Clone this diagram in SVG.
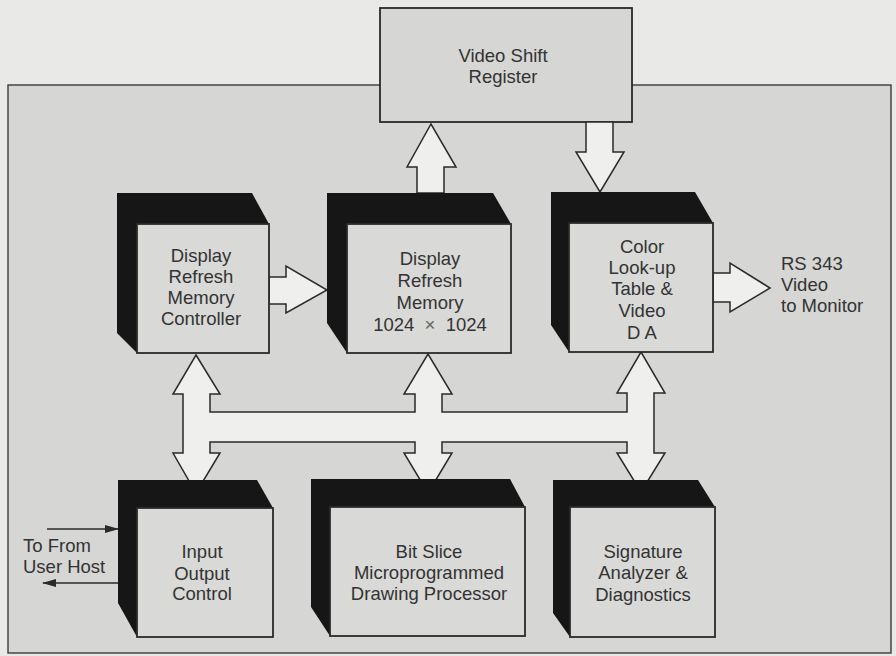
<svg xmlns="http://www.w3.org/2000/svg" width="896" height="656" viewBox="0 0 896 656">
<defs>
<style>
.bg{fill:#e9e9e7}
.panel{fill:#d6d6d4;stroke:#3a3a3a;stroke-width:1.4}
.shade{fill:#161616}
.face{fill:#d9d9d7;stroke:#2a2a2a;stroke-width:1.8}
.big{fill:#efefed;stroke:#2a2a2a;stroke-width:1.5;stroke-linejoin:miter}
.thin{stroke:#2a2a2a;stroke-width:1.6;fill:none}
text{font-family:"Liberation Sans",Arial,Helvetica,sans-serif;font-size:18.5px;fill:#333333}
.c{text-anchor:middle}
</style>
<marker id="ah" viewBox="0 0 14 8" refX="13" refY="4" markerWidth="14" markerHeight="8" markerUnits="userSpaceOnUse" orient="auto">
<path d="M0,0 L14,4 L0,8 Z" fill="#2a2a2a"/>
</marker>
</defs>
<rect class="bg" x="0" y="0" width="896" height="656"/>
<rect class="panel" x="8" y="85" width="883" height="568"/>

<g id="video-shift-register">
<rect class="face" x="380" y="8" width="252" height="114" style="fill:#d6d6d4"/>
<text class="c" x="503" y="62">Video Shift</text>
<text class="c" x="503" y="83">Register</text>
</g>

<g id="connectors">
<path class="big" d="M417,193 L417,167 L407,167 L431,124 L456,167 L444,167 L444,193 Z"/>
<path class="big" d="M586,122 L586,152 L576,152 L600,192 L624,152 L613,152 L613,122 Z"/>
<path class="big" d="M269,277 L286,277 L286,266 L327,290 L286,313 L286,304 L269,304 Z"/>
<path class="big" d="M713,273 L730,273 L730,263 L770,288 L730,312 L730,302 L713,302 Z"/>
<path class="big" d="M196,355 L220,394 L210,394 L210,412 L415,412 L415,394 L404,394 L428,354 L452,394 L442,394 L442,412 L627,412 L627,393 L617,393 L641,352 L665,393 L654,393 L654,453 L665,453 L641,492 L617,453 L627,453 L627,442 L442,442 L442,453 L452,453 L428,493 L404,453 L415,453 L415,442 L210,442 L210,453 L220,453 L196,493 L173,453 L183,453 L183,394 L173,394 Z"/>
<line class="thin" x1="47" y1="529" x2="118" y2="529" marker-end="url(#ah)"/>
<line class="thin" x1="118" y1="583" x2="43" y2="583" marker-end="url(#ah)"/>
</g>

<g id="display-refresh-memory-controller">
<path class="shade" d="M117,193 L252,193 L269,224 L137,224 L137,353 L117,333 Z"/>
<rect class="face" x="137" y="224" width="132" height="129"/>
<text class="c" x="201" y="262">Display</text>
<text class="c" x="201" y="283">Refresh</text>
<text class="c" x="201" y="304">Memory</text>
<text class="c" x="201" y="325">Controller</text>
</g>

<g id="display-refresh-memory">
<path class="shade" d="M327,193 L493,193 L511,224 L347,224 L347,353 L327,323 Z"/>
<rect class="face" x="347" y="224" width="164" height="129"/>
<text class="c" x="430" y="265">Display</text>
<text class="c" x="430" y="287">Refresh</text>
<text class="c" x="430" y="309">Memory</text>
<text class="c" x="430" y="331" xml:space="preserve">1024  <tspan fill="#666666">×</tspan>  1024</text>
</g>

<g id="color-lookup-table">
<path class="shade" d="M551,192 L695,192 L713,223 L569,223 L569,352 L551,325 Z"/>
<rect class="face" x="569" y="223" width="144" height="129"/>
<text class="c" x="642" y="253">Color</text>
<text class="c" x="642" y="274">Look-up</text>
<text class="c" x="642" y="295">Table &amp;</text>
<text class="c" x="642" y="317">Video</text>
<text class="c" x="642" y="339">D A</text>
</g>

<g id="rs343-label">
<text x="781" y="270">RS 343</text>
<text x="781" y="291">Video</text>
<text x="781" y="312">to Monitor</text>
</g>

<g id="input-output-control">
<path class="shade" d="M118,480 L257,480 L273,508 L137,508 L137,637 L118,603 Z"/>
<rect class="face" x="137" y="508" width="136" height="129"/>
<text class="c" x="202" y="558">Input</text>
<text class="c" x="202" y="580">Output</text>
<text class="c" x="202" y="600">Control</text>
</g>

<g id="user-host-label">
<text x="23" y="552">To From</text>
<text x="23" y="573">User Host</text>
</g>

<g id="bit-slice-processor">
<path class="shade" d="M311,479 L510,479 L525,507 L330,507 L330,636 L311,607 Z"/>
<rect class="face" x="330" y="507" width="195" height="129"/>
<text class="c" x="429" y="558">Bit Slice</text>
<text class="c" x="429" y="579">Microprogrammed</text>
<text class="c" x="429" y="600">Drawing Processor</text>
</g>

<g id="signature-analyzer">
<path class="shade" d="M553,480 L698,480 L715,507 L570,507 L570,637 L553,613 Z"/>
<rect class="face" x="570" y="507" width="145" height="130"/>
<text class="c" x="643" y="558">Signature</text>
<text class="c" x="643" y="579">Analyzer &amp;</text>
<text class="c" x="643" y="601">Diagnostics</text>
</g>
</svg>
